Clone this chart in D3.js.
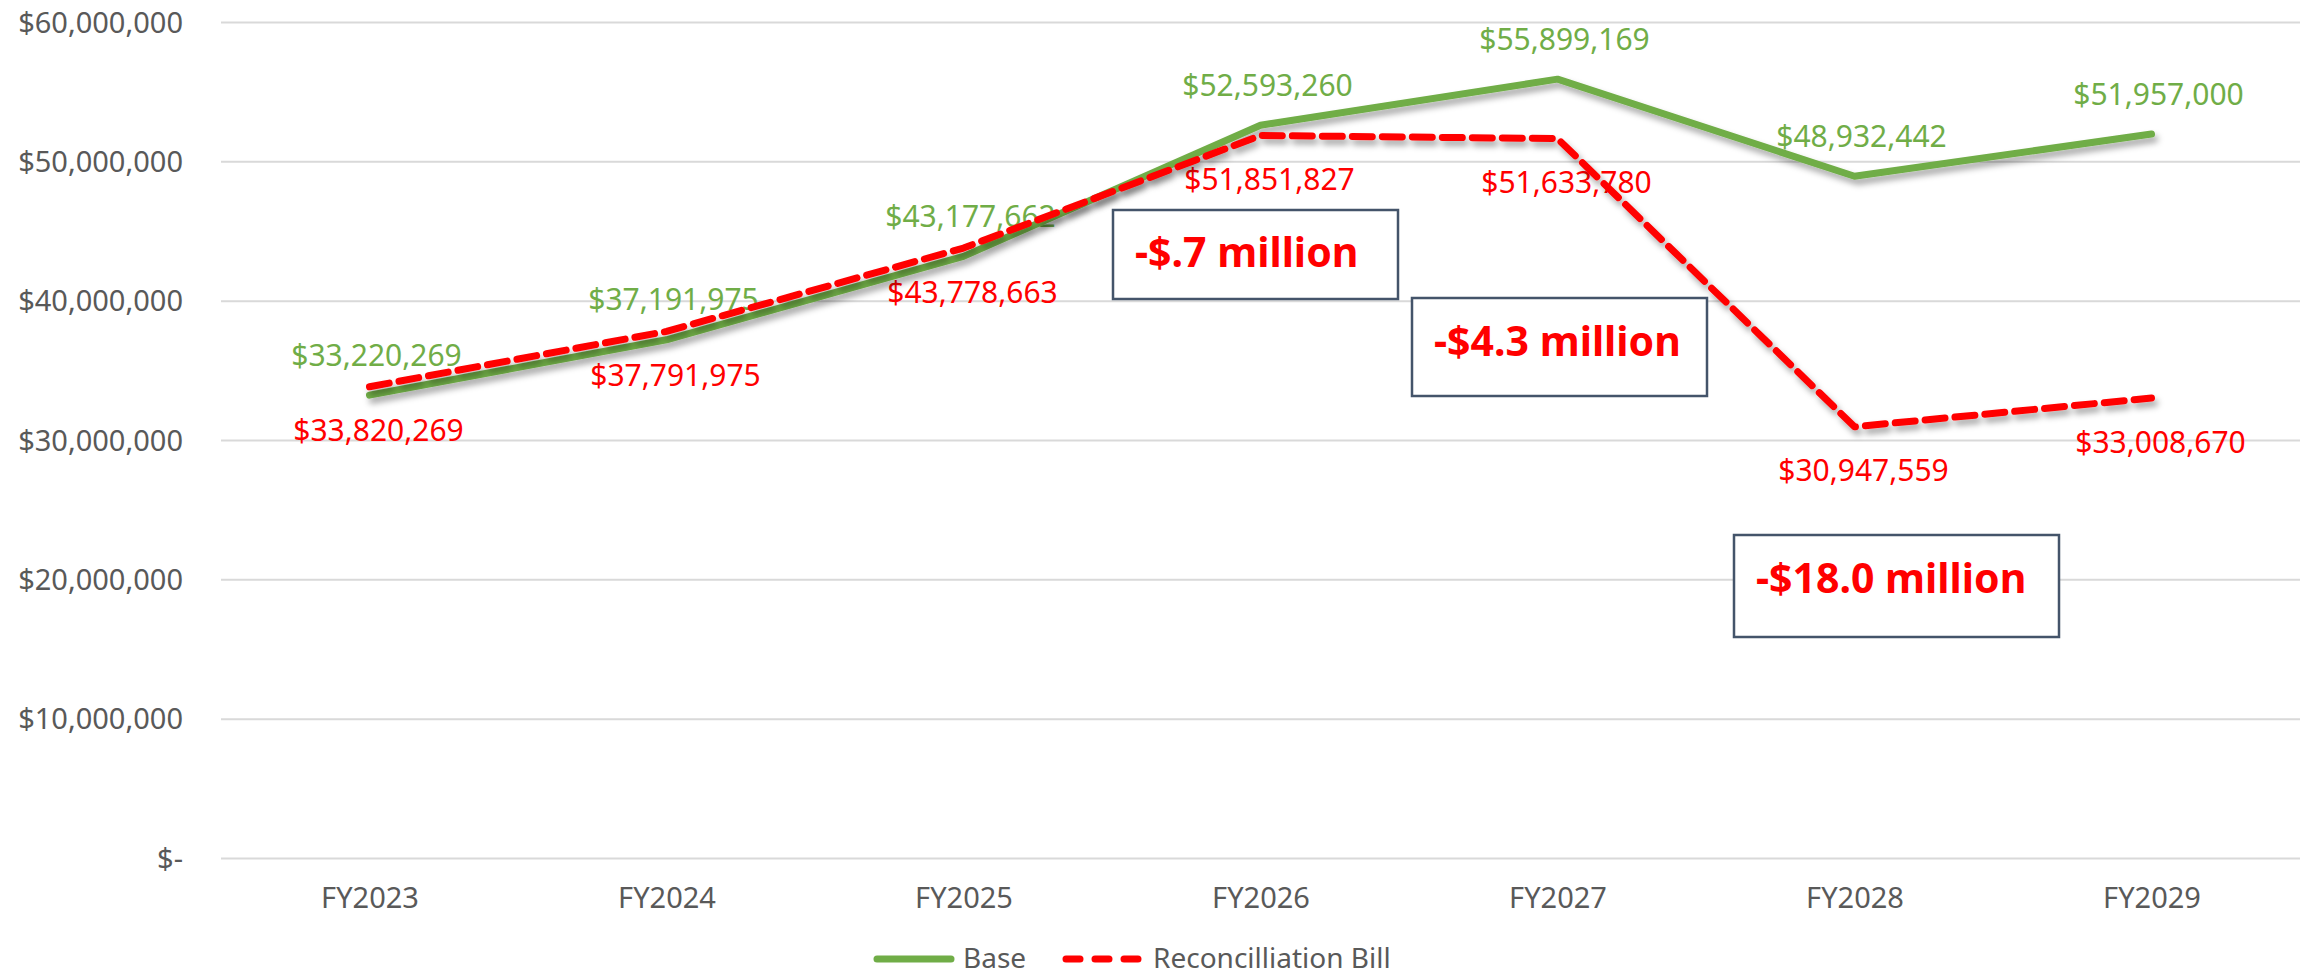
<!DOCTYPE html>
<meta charset="utf-8">
<style>
  body { margin: 0; background: #fff; }
  svg { display: block; font-family: "Noto Sans", sans-serif; }
  .axis text { fill: #595959; font-size: 29px; font-family: "Noto Sans", sans-serif; }
  .grid line { stroke: #d9d9d9; stroke-width: 2px; }
  .line { fill: none; stroke-linejoin: round; stroke-linecap: round; }
  .base-line { stroke: #70ad47; stroke-width: 7px; }
  .bill-line { stroke: #ff0000; stroke-width: 7px; stroke-dasharray: 20 10; }
  .base-label { fill: #70ad47; font-size: 30px; }
  .bill-label { fill: #ff0000; font-size: 30px; }
  .legend text { fill: #595959; font-size: 28px; }
  .note rect { fill: #fff; stroke: #44546a; stroke-width: 2.5px; }
  .note text { fill: #ff0000; font-size: 41px; font-weight: bold; }
</style>

<body>
  <script src="https://cdn.jsdelivr.net/npm/d3@7"></script>
  <script>

    // data
    var years = ["FY2023", "FY2024", "FY2025", "FY2026", "FY2027", "FY2028", "FY2029"];
    var base = [33220269, 37191975, 43177662, 52593260, 55899169, 48932442, 51957000];
    var bill = [33820269, 37791975, 43778663, 51851827, 51633780, 30947559, 33008670];
    var yTicks = [0, 10000000, 20000000, 30000000, 40000000, 50000000, 60000000];
    var notes = ["-$.7 million", "-$4.3 million", "-$18.0 million"];
    var seriesNames = ["Base", "Reconcilliation Bill"];

    // set the dimensions and margins of the graph
    var margin = {top: 22, right: 5, bottom: 119, left: 221};
    var width = 2305 - margin.left - margin.right;
    var height = 977 - margin.top - margin.bottom;

    var x = d3.scalePoint().domain(years).range([0, width]).padding(0.5);
    var y = d3.scaleLinear().domain([0, 60000000]).range([height, 0]);

    var money = d3.format(",");
    var fmt = function(d) { return d === 0 ? "$-" : "$" + money(d); };

    var svg = d3.select("body").append("svg")
      .attr("width", 2305)
      .attr("height", 977);

    var defs = svg.append("defs");
    var shadow = defs.append("filter").attr("id", "shadow")
      .attr("x", "-10%").attr("y", "-10%").attr("width", "120%").attr("height", "130%");
    shadow.append("feDropShadow")
      .attr("dx", 3).attr("dy", 5).attr("stdDeviation", 3)
      .attr("flood-color", "#000").attr("flood-opacity", 0.35);

    var g = svg.append("g")
      .attr("transform", "translate(" + margin.left + "," + margin.top + ")");

    // y axis with gridlines
    var yAxis = g.append("g")
      .attr("class", "axis grid")
      .call(d3.axisLeft(y).tickValues(yTicks).tickFormat(fmt).tickSize(-width).tickPadding(38));
    yAxis.select(".domain").remove();
    yAxis.selectAll("text").attr("dy", "0.35em");

    // x axis labels
    var xAxis = g.append("g")
      .attr("class", "axis")
      .attr("transform", "translate(0," + height + ")")
      .call(d3.axisBottom(x).tickSize(0).tickPadding(29));
    xAxis.select(".domain").remove();

    // annotation boxes
    var noteBoxes = [
      {x: 1113, y: 210, w: 285, h: 89, ty: 253},
      {x: 1412, y: 298, w: 295, h: 98, ty: 342},
      {x: 1734, y: 535, w: 325, h: 102, ty: 579}
    ];
    var note = svg.selectAll(".note")
      .data(notes)
      .enter().append("g")
      .attr("class", "note");
    note.append("rect")
      .attr("x", function(d, i) { return noteBoxes[i].x; })
      .attr("y", function(d, i) { return noteBoxes[i].y; })
      .attr("width", function(d, i) { return noteBoxes[i].w; })
      .attr("height", function(d, i) { return noteBoxes[i].h; });
    note.append("text")
      .attr("x", function(d, i) { return noteBoxes[i].x + 22; })
      .attr("y", function(d, i) { return noteBoxes[i].ty; })
      .attr("dy", "0.35em")
      .text(function(d) { return d; });

    // data labels (drawn under the lines)
    g.selectAll(".base-label")
      .data(base)
      .enter().append("text")
      .attr("class", "base-label")
      .attr("text-anchor", "middle")
      .attr("x", function(d, i) { return x(years[i]) + 7; })
      .attr("y", function(d) { return y(d) - 40; })
      .attr("dy", "0.35em")
      .text(fmt);

    g.selectAll(".bill-label")
      .data(bill)
      .enter().append("text")
      .attr("class", "bill-label")
      .attr("text-anchor", "middle")
      .attr("x", function(d, i) { return x(years[i]) + 9; })
      .attr("y", function(d) { return y(d) + 44; })
      .attr("dy", "0.35em")
      .text(fmt);

    var line = d3.line()
      .x(function(d, i) { return x(years[i]); })
      .y(function(d) { return y(d); });

    g.append("path")
      .datum(base)
      .attr("class", "line base-line")
      .attr("filter", "url(#shadow)")
      .attr("d", line);

    g.append("path")
      .datum(bill)
      .attr("class", "line bill-line")
      .attr("filter", "url(#shadow)")
      .attr("d", line);

    // legend
    var legendY = 959;
    var legend = svg.append("g").attr("class", "legend");
    legend.append("line")
      .attr("class", "line base-line")
      .attr("x1", 877).attr("x2", 951).attr("y1", legendY).attr("y2", legendY);
    legend.append("text")
      .attr("x", 963).attr("y", legendY + 9)
      .text(seriesNames[0]);
    legend.append("line")
      .attr("class", "line bill-line")
      .attr("x1", 1066).attr("x2", 1138).attr("y1", legendY).attr("y2", legendY)
      .style("stroke-dasharray", "14 15");
    legend.append("text")
      .attr("x", 1153).attr("y", legendY + 9)
      .text(seriesNames[1]);

  </script>
</body>
